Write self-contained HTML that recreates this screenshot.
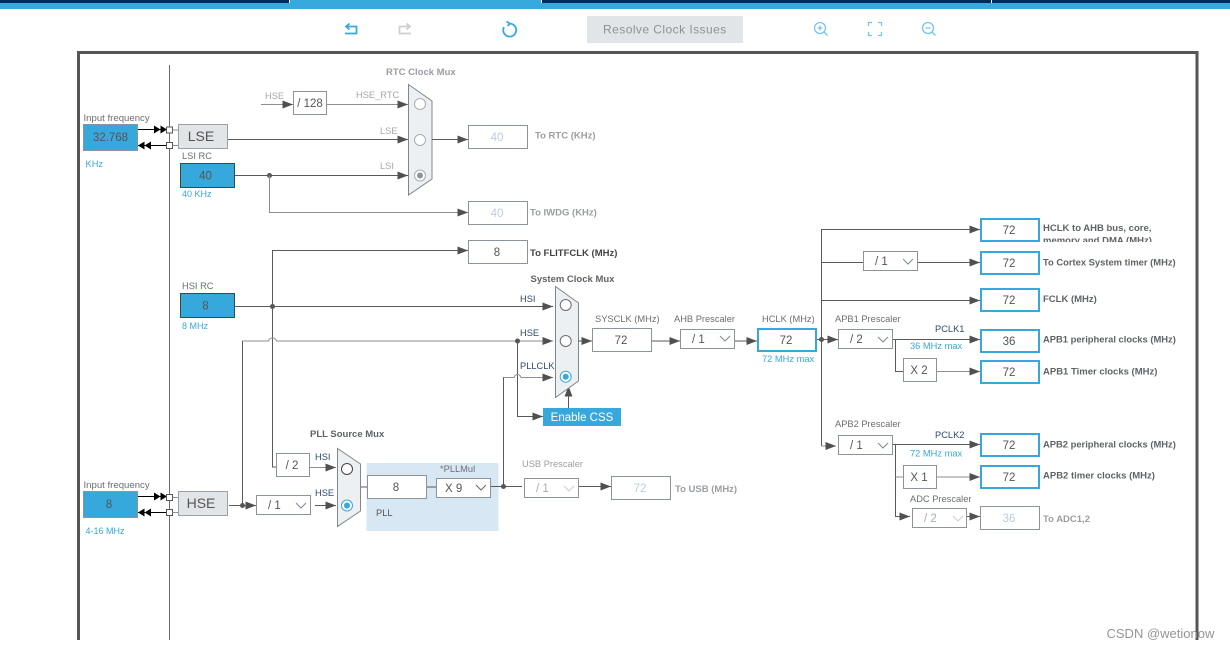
<!DOCTYPE html>
<html><head><meta charset="utf-8"><title>Clock Configuration</title>
<style>
html,body{margin:0;padding:0;background:#fff;width:1230px;height:648px;overflow:hidden}
svg{display:block;font-family:"Liberation Sans",sans-serif}
.l{fill:none;stroke:#595959;stroke-width:1}
.g{fill:none;stroke:#8e8e8e;stroke-width:1}
.b{fill:#fff;stroke:#8c949a;stroke-width:1}
.o{fill:#fff;stroke:#37a8dc;stroke-width:2}
.in{fill:#37a8dc;stroke:#8c949a;stroke-width:1}
.ind{fill:#37a8dc;stroke:#444;stroke-width:1}
.m{fill:#edf0f2;stroke:#7f878d;stroke-width:1}
.c{fill:#fff;stroke:#6d6d6d;stroke-width:1}
.v{fill:none;stroke:#7d8a93;stroke-width:1}
.vd{fill:none;stroke:#c9ced2;stroke-width:1}
.dot{fill:#555}
text{font-size:9.300px;fill:#6a6e73}
.bl{font-weight:bold;fill:#5f6368}
.dk{fill:#2f4a6a;font-size:9.300px}
.cy{fill:#37a8dc}
.cs{fill:#37a8dc;font-size:9px}
.if{font-size:9.600px}
.n{font-size:11.500px;fill:#555;text-anchor:middle}
.nd{font-size:11.500px;fill:#b9cde0;text-anchor:middle}
.sel{font-size:11.500px;fill:#555}
.seld{font-size:11.500px;fill:#a8adb2}
.gb{font-weight:bold;fill:#9a9ea3}
.gn{fill:#a3a7ab}
</style></head><body>
<svg width="1230" height="648" viewBox="0 0 1230 648" xmlns="http://www.w3.org/2000/svg">
<defs>
<marker id="a" markerUnits="userSpaceOnUse" markerWidth="11" markerHeight="8" viewBox="0 0 11 8" refX="10.5" refY="4" orient="auto"><path d="M0 0L10.500 4L0 8z" fill="#505050"/></marker>
<clipPath id="cl"><rect x="1040" y="215" width="180" height="27"/></clipPath>
</defs>
<rect x="0" y="0" width="1230" height="3" fill="#022a5c"/>
<rect x="0" y="3" width="1230" height="6" fill="#38a9dc"/>
<rect x="290" y="0" width="251" height="3" fill="#38a9dc"/>
<rect x="289" y="0" width="1" height="3" fill="#fff"/>
<rect x="541" y="0" width="1" height="3" fill="#fff"/>
<rect x="991" y="0" width="1" height="3" fill="#fff"/>

<!-- toolbar -->
<rect x="587" y="16" width="156" height="27" fill="#e1e5e8"/>
<text x="603" y="33.500" style="font-size:12px;fill:#8d9297;letter-spacing:.45px">Resolve Clock Issues</text>
<g fill="none" stroke="#38a9dc" stroke-width="1.800">
<path d="M346 26.500H356.500V33.500H345"/><path d="M349.500 23.500L346 26.500L349.500 29.500"/>
<path d="M510 23.600a6.500 6.500 0 1 1 -6 3.400"/><path d="M506.500 21.500L510 23.600L507.500 26"/>
</g>
<g fill="none" stroke="#cfcfcf" stroke-width="1.800">
<path d="M410 26.500H399.500V33.500H411"/><path d="M406.500 23.500L410 26.500L406.500 29.500"/>
</g>
<g fill="none" stroke="#79c5ea" stroke-width="1.300">
<circle cx="820" cy="28" r="5.500"/><path d="M824 32L827.500 35.500M817.500 28H822.500M820 25.500V30.500"/>
<path d="M868.500 26V22.500H872M878 22.500H881.500V26M881.500 32V35.500H878M872 35.500H868.500V32" />
<circle cx="928" cy="28" r="5.500"/><path d="M932 32L935.500 35.500M925.500 28H930.500"/>
</g>

<!-- frame -->
<path d="M78.500 640V52.500H1197V640" fill="none" stroke="#555" stroke-width="3"/>
<path d="M169.500 65V640" class="l" style="stroke:#6a6a6a"/>

<!-- left inputs -->
<text class="if" x="83.500" y="121">Input frequency</text>
<rect class="in" x="83.500" y="124.500" width="54" height="26"/>
<text class="n" x="110.500" y="141">32.768</text>
<text class="cy" x="85.500" y="167">KHz</text>
<path class="l" style="stroke:#000" d="M138 129.500H166M138 145.500H166"/>
<path d="M154 125.500L160.500 129.500L154 133.500zM160.500 125.500L167 129.500L160.500 133.500zM138 145.500L144.500 141.500V149.500zM144.500 145.500L151 141.500V149.500z" fill="#000"/>
<rect x="166.500" y="127" width="6" height="6" fill="#fff" stroke="#555"/>
<rect x="166.500" y="142.500" width="6" height="6" fill="#fff" stroke="#555"/>
<path class="g" d="M172.500 130H178M172.500 145.500H178"/>
<rect x="178.500" y="124.500" width="49" height="24" fill="#e2e5e8" stroke="#9aa1a6"/>
<text x="201" y="141" style="font-size:14px;fill:#555;text-anchor:middle">LSE</text>
<text x="182" y="159">LSI RC</text>
<rect class="ind" x="180.500" y="163.500" width="54" height="24"/>
<text class="n" x="205.500" y="179.500">40</text>
<text class="cs" x="182" y="197">40 KHz</text>

<text class="gn" x="265" y="99">HSE</text>
<path class="g" d="M261 104.500H293" marker-end="url(#a)"/>
<rect class="b" x="293.500" y="91.500" width="33" height="23"/>
<text x="310" y="107" class="n">/ 128</text>
<text class="gn" x="356" y="98">HSE_RTC</text>
<path class="g" d="M327 104.500H408" marker-end="url(#a)"/>
<path class="l" d="M228 139.500H408" marker-end="url(#a)"/>
<text class="gn" x="380" y="134">LSE</text>
<path class="l" d="M235 175.500H408" marker-end="url(#a)"/>
<text class="gn" x="380" y="169">LSI</text>
<circle class="dot" cx="269.500" cy="175.500" r="2.500"/>
<path class="g" d="M269.500 175.500V212.500H468" marker-end="url(#a)"/>
<text class="gb" x="386" y="75" style="font-size:9.500px">RTC Clock Mux</text>
<polygon class="m" points="408.500,84.500 432,101 432,179 408.500,195"/>
<circle cx="420" cy="104" r="5.500" fill="#fff" stroke="#a8adb2"/>
<circle cx="420" cy="140" r="5.500" fill="#fff" stroke="#a8adb2"/>
<circle cx="420" cy="175.500" r="5.500" fill="#fff" stroke="#a8adb2"/>
<circle cx="420" cy="175.500" r="3" fill="#8f9499"/>
<path class="l" d="M432 139.500H468" marker-end="url(#a)"/>
<rect class="b" x="468.500" y="125.500" width="59" height="23"/>
<text class="nd" x="497" y="141">40</text>
<text class="gb" x="535" y="138.500" style="font-size:9.500px">To RTC (KHz)</text>
<rect class="b" x="468.500" y="201.500" width="59" height="23"/>
<text class="nd" x="497" y="217">40</text>
<text class="gb" x="530" y="215.500" style="font-size:9.500px">To IWDG (KHz)</text>
<path class="l" d="M272.500 306V250.500H468" marker-end="url(#a)"/>
<rect class="b" x="468.500" y="240.500" width="59" height="23"/>
<text class="n" x="497" y="256">8</text>
<text class="bl" x="530" y="256" style="fill:#444;font-size:9.500px">To FLITFCLK (MHz)</text>

<!-- HSI -->
<text x="182" y="289">HSI RC</text>
<rect class="ind" x="180.500" y="293.500" width="54" height="24"/>
<text class="n" x="205.500" y="309.500">8</text>
<text class="cs" x="182" y="329">8 MHz</text>
<path class="l" d="M235 306.500H553" marker-end="url(#a)"/>
<circle class="dot" cx="272.500" cy="306.500" r="2.500"/>
<path class="l" d="M272.500 306.500V467H276"/>
<path class="g" d="M242.500 505V341H268.500Q269.500 338 272.500 338Q275.500 338 276.500 341H553" marker-end="url(#a)"/>
<path class="l" d="M242.500 505V341"/>
<circle class="dot" cx="517.500" cy="341" r="2.500"/>
<path class="l" d="M517.500 341V416.500H543" marker-end="url(#a)"/>
<path class="g" d="M503.500 486V377.500H514Q515 374.500 517.500 374.500Q520 374.500 521 377.500H553" marker-end="url(#a)"/>
<path class="l" d="M503.500 486V377.500"/>
<text class="dk" x="520" y="302">HSI</text>
<text class="dk" x="520" y="336">HSE</text>
<text class="dk" x="520" y="369">PLLCLK</text>
<rect x="543" y="408" width="78" height="18" fill="#37a8dc"/>
<text x="582" y="421" style="font-size:11.500px;fill:#fff;text-anchor:middle">Enable CSS</text>
<path class="l" d="M568.500 408V386" marker-end="url(#a)"/>
<text class="bl" x="530.500" y="282" style="font-size:9.500px">System Clock Mux</text>
<polygon class="m" points="555.500,286.500 578.500,303 578.500,381 555.500,397.500"/>
<circle class="c" cx="565.700" cy="305" r="5.500"/>
<circle class="c" cx="565.700" cy="341" r="5.500"/>
<circle cx="565.700" cy="376.700" r="5.500" fill="#fff" stroke="#37a8dc"/>
<circle cx="565.700" cy="376.700" r="3" fill="#37a8dc"/>

<path class="l" d="M578 341H592" marker-end="url(#a)"/>
<rect class="b" x="592.500" y="328.500" width="59" height="23"/>
<text class="n" x="621" y="344">72</text>
<text x="595" y="322">SYSCLK (MHz)</text>
<path class="l" d="M652 341H680" marker-end="url(#a)"/>
<rect class="b" x="680.500" y="329.500" width="54" height="19"/>
<text class="sel" x="692" y="343">/ 1</text>
<polyline class="v" points="720,336 725,341 730,336"/>
<text x="674" y="322">AHB Prescaler</text>
<path class="l" d="M735 341H757" marker-end="url(#a)"/>
<rect class="o" x="758" y="329" width="58" height="22"/>
<text class="n" x="786" y="344">72</text>
<text x="762" y="322">HCLK (MHz)</text>
<text class="cy" x="762" y="362">72 MHz max</text>

<!-- HSE input -->
<text class="if" x="83.500" y="488">Input frequency</text>
<rect class="in" x="83.500" y="491.500" width="54" height="26"/>
<text class="n" x="109" y="508">8</text>
<text class="cs" x="85.500" y="534">4-16 MHz</text>
<path class="l" style="stroke:#000" d="M138 496.500H166M138 512.500H166"/>
<path d="M154 492.500L160.500 496.500L154 500.500zM160.500 492.500L167 496.500L160.500 500.500zM138 512.500L144.500 508.500V516.500zM144.500 512.500L151 508.500V516.500z" fill="#000"/>
<rect x="166.500" y="494.500" width="6" height="6" fill="#fff" stroke="#555"/>
<rect x="166.500" y="509.500" width="6" height="6" fill="#fff" stroke="#555"/>
<path class="g" d="M172.500 497.500H178M172.500 512.500H178"/>
<rect x="178.500" y="491.500" width="49" height="24" fill="#e2e5e8" stroke="#9aa1a6"/>
<text x="201" y="508" style="font-size:14px;fill:#555;text-anchor:middle">HSE</text>
<path class="l" d="M229 505.500H256" marker-end="url(#a)"/>
<circle class="dot" cx="242.500" cy="505.500" r="2.500"/>
<rect class="b" x="256.500" y="495.500" width="54" height="19"/>
<text class="sel" x="268" y="509">/ 1</text>
<polyline class="v" points="296,503 301,508 306,503"/>
<rect class="b" x="276.500" y="453.500" width="33" height="23"/>
<text class="n" x="292" y="469">/ 2</text>
<path class="g" d="M310 467.500H336" marker-end="url(#a)"/>
<path class="l" d="M315 505.500H336" marker-end="url(#a)"/>
<text class="dk" x="315" y="460">HSI</text>
<text class="dk" x="315" y="496">HSE</text>
<text class="bl" x="310" y="437" style="font-size:9.500px">PLL Source Mux</text>
<polygon class="m" points="337.500,448.500 360.500,464 360.500,511 337.500,526.500"/>
<circle cx="347" cy="469" r="5.500" fill="#fff" stroke="#444"/>
<circle cx="347" cy="505.500" r="5.500" fill="#fff" stroke="#37a8dc"/>
<circle cx="347" cy="505.500" r="3" fill="#37a8dc"/>
<rect x="366.500" y="463" width="132" height="68" fill="#d8e7f4"/>
<path class="l" d="M361 487H367M427 487H436"/>
<rect class="b" x="367.500" y="475.500" width="59" height="23"/>
<text class="n" x="396" y="491">8</text>
<rect class="b" x="436.500" y="478.500" width="54" height="19"/>
<text class="sel" x="445" y="492">X 9</text>
<polyline class="v" style="stroke:#666" points="476,485 481,490 486,485"/>
<text x="440" y="472">*PLLMul</text>
<text x="376" y="516" style="fill:#555">PLL</text>
<path class="l" d="M491 486.500H522"/>
<circle class="dot" cx="503.500" cy="486.500" r="2.500"/>

<!-- USB -->
<text class="gb" x="522" y="467" style="font-weight:normal">USB Prescaler</text>
<rect class="b" x="524.500" y="478.500" width="54" height="19"/>
<text class="seld" x="536" y="492">/ 1</text>
<polyline class="vd" points="564,486 569,491 574,486"/>
<path class="l" d="M579 486.500H611" marker-end="url(#a)"/>
<rect class="b" x="611.500" y="476.500" width="59" height="23"/>
<text class="nd" x="640" y="492">72</text>
<text class="gb" x="675" y="492" style="font-size:9.500px">To USB (MHz)</text>

<!-- right tree -->
<circle class="dot" cx="821.500" cy="339.500" r="2.500"/>
<path class="l" d="M817 339.500H838" marker-end="url(#a)"/>
<path class="l" d="M821.500 446V229.500H980" marker-end="url(#a)"/>
<path class="l" d="M821.500 262.500H863M918 262.500H980" marker-end="url(#a)"/>
<path class="l" d="M821.500 300.500H980" marker-end="url(#a)"/>
<path class="g" d="M821.500 446H836" marker-end="url(#a)"/>
<rect class="b" x="863.500" y="251.500" width="54" height="19"/>
<text class="sel" x="875" y="265">/ 1</text>
<polyline class="v" points="903,259 908,264 913,259"/>

<rect class="o" x="981" y="219" width="58" height="22"/><text class="n" x="1009" y="234">72</text>
<rect class="o" x="981" y="252" width="58" height="22"/><text class="n" x="1009" y="267">72</text>
<rect class="o" x="981" y="289" width="58" height="22"/><text class="n" x="1009" y="304">72</text>
<rect class="o" x="981" y="330" width="58" height="22"/><text class="n" x="1009" y="345">36</text>
<rect class="o" x="981" y="361" width="58" height="22"/><text class="n" x="1009" y="376">72</text>
<rect class="o" x="981" y="434" width="58" height="22"/><text class="n" x="1009" y="449">72</text>
<rect class="o" x="981" y="466" width="58" height="22"/><text class="n" x="1009" y="481">72</text>
<rect class="b" x="980.500" y="506.500" width="59" height="23"/><text class="nd" x="1009" y="522">36</text>

<g clip-path="url(#cl)"><text class="bl" x="1043" y="231" style="font-size:9.500px">HCLK to AHB bus, core,</text>
<text class="bl" x="1043" y="243.500" style="font-size:9.500px">memory and DMA (MHz)</text></g>
<text class="bl" x="1043" y="265.500" style="font-size:9.400px">To Cortex System timer (MHz)</text>
<text class="bl" x="1043" y="302" style="font-size:9.500px">FCLK (MHz)</text>
<text class="bl" x="1043" y="342.500" style="font-size:9.400px">APB1 peripheral clocks (MHz)</text>
<text class="bl" x="1043" y="374.500" style="font-size:9.500px">APB1 Timer clocks (MHz)</text>
<text class="bl" x="1043" y="447.500" style="font-size:9.400px">APB2 peripheral clocks (MHz)</text>
<text class="bl" x="1043" y="478.500" style="font-size:9.500px">APB2 timer clocks (MHz)</text>
<text class="gb" x="1043" y="522" style="font-size:9.500px">To ADC1,2</text>

<text x="835" y="322">APB1 Prescaler</text>
<rect class="b" x="838.500" y="329.500" width="54" height="19"/>
<text class="sel" x="850" y="343">/ 2</text>
<polyline class="v" points="878,337 883,342 888,337"/>
<text class="dk" x="935" y="332">PCLK1</text>
<text class="cy" x="910" y="349">36 MHz max</text>
<path class="l" d="M893 339.500H980" marker-end="url(#a)"/>
<path class="l" d="M895.500 339.500V371.500H903"/>
<rect class="b" x="903.500" y="358.500" width="33" height="23"/>
<text class="n" x="919" y="374">X 2</text>
<path class="g" d="M937 371.500H980" marker-end="url(#a)"/>

<text x="835" y="427">APB2 Prescaler</text>
<rect class="b" x="838.500" y="435.500" width="54" height="19"/>
<text class="sel" x="850" y="449">/ 1</text>
<polyline class="v" points="878,443 883,448 888,443"/>
<text class="dk" x="935" y="438">PCLK2</text>
<text class="cy" x="910" y="456.500">72 MHz max</text>
<path class="l" d="M893 444.500H980" marker-end="url(#a)"/>
<path class="l" d="M895.500 444.500V516.500H910" marker-end="url(#a)"/>
<path class="g" d="M895.500 477H903"/>
<rect class="b" x="903.500" y="465.500" width="33" height="23"/>
<text class="n" x="919" y="481">X 1</text>
<path class="g" d="M937 477H980" marker-end="url(#a)"/>
<text x="910" y="502">ADC Prescaler</text>
<rect class="b" x="912.500" y="508.500" width="54" height="19"/>
<text class="seld" x="924" y="522">/ 2</text>
<polyline class="vd" points="953,516 958,521 963,516"/>
<path class="l" d="M967 516.500H980" marker-end="url(#a)"/>

<text x="1106.500" y="638" style="font-size:13px;fill:#8a8a8a;fill-opacity:.9">CSDN @wetionow</text>
</svg>
</body></html>
